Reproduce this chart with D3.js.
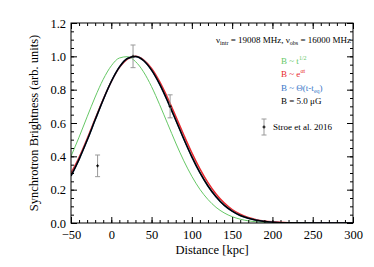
<!DOCTYPE html>
<html>
<head>
<meta charset="utf-8">
<script src="https://cdn.jsdelivr.net/npm/d3@7"></script>
<style>
  body { margin: 0; background: #fff; }
  text { font-family: "Liberation Serif", "DejaVu Serif", serif; }
</style>
</head>
<body>
<svg id="chart" width="374" height="267"></svg>
<script>
// distance grid [kpc]
const dist = [-50, -40, -30, -20, -10, 0, 10, 20, 30, 40, 50, 60, 70, 80, 90, 100,
  110, 120, 130, 140, 150, 160, 170, 180, 190, 200, 220, 250, 300];

// model curves
const greenVals = [0.40, 0.515, 0.637, 0.756, 0.862, 0.943, 0.99, 0.998, 0.969, 0.907, 0.818,
  0.71, 0.595, 0.48, 0.373, 0.28, 0.202, 0.141, 0.094, 0.061, 0.038, 0.023, 0.013, 0.007,
  0.004, 0.002, 0.0005, 0, 0];
const redVals = [0.30, 0.393, 0.505, 0.625, 0.742, 0.848, 0.932, 0.984, 1.0, 0.979, 0.927,
  0.848, 0.75, 0.64, 0.528, 0.421, 0.325, 0.242, 0.174, 0.121, 0.081, 0.053, 0.033, 0.02,
  0.012, 0.007, 0.002, 0, 0];
const blueVals = [0.282, 0.382, 0.496, 0.619, 0.74, 0.849, 0.935, 0.987, 0.999, 0.975, 0.917,
  0.833, 0.73, 0.618, 0.504, 0.397, 0.302, 0.222, 0.157, 0.107, 0.071, 0.045, 0.028, 0.016,
  0.009, 0.005, 0.001, 0, 0];
const blackVals = [0.282, 0.382, 0.496, 0.619, 0.74, 0.849, 0.935, 0.987, 0.999, 0.975, 0.917,
  0.833, 0.73, 0.618, 0.504, 0.397, 0.302, 0.222, 0.157, 0.107, 0.071, 0.045, 0.028, 0.016,
  0.009, 0.005, 0.001, 0, 0];

// Stroe et al. 2016 points
const obsX = [-17, 27, 73];
const obsY = [0.343, 1.0, 0.70];
const obsErr = [0.065, 0.068, 0.069];

const xTicks = [-50, 0, 50, 100, 150, 200, 250, 300];
const yTicks = [0.0, 0.2, 0.4, 0.6, 0.8, 1.0, 1.2];

const svg = d3.select("#chart");
const mLeft = 71, mRight = 353, mTop = 23, mBottom = 223;

const x = d3.scaleLinear().domain([-50, 300]).range([mLeft, mRight]);
const y = d3.scaleLinear().domain([0, 1.2]).range([mBottom, mTop]);

svg.append("clipPath").attr("id", "clip")
  .append("rect").attr("x", mLeft).attr("y", mTop)
  .attr("width", mRight - mLeft).attr("height", mBottom - mTop);

const curves = [
  { vals: greenVals, color: "#66c866", w: 1 },
  { vals: redVals, color: "#e8282c", w: 1.5 },
  { vals: blueVals, color: "#3a78c8", w: 1.5 },
  { vals: blackVals, color: "#000", w: 1.5 }
];

const line = d3.line()
  .x((d, i) => x(dist[i]))
  .y(d => y(d))
  .curve(d3.curveMonotoneX);

const g = svg.append("g").attr("clip-path", "url(#clip)");
curves.forEach(c => {
  g.append("path")
    .attr("d", line(c.vals))
    .attr("fill", "none")
    .attr("stroke", c.color)
    .attr("stroke-width", c.w);
});

// error bars
const eb = svg.append("g");
obsX.forEach((d, i) => {
  const cx = x(d);
  const y0 = y(obsY[i] - obsErr[i]), y1 = y(obsY[i] + obsErr[i]);
  eb.append("line").attr("x1", cx).attr("x2", cx).attr("y1", y0).attr("y2", y1)
    .attr("stroke", "#999").attr("stroke-width", 1);
  [y0, y1].forEach(yy => eb.append("line")
    .attr("x1", cx - 2.5).attr("x2", cx + 2.5).attr("y1", yy).attr("y2", yy)
    .attr("stroke", "#999").attr("stroke-width", 1));
  eb.append("line").attr("x1", cx - 1.5).attr("x2", cx + 1.5)
    .attr("y1", y(obsY[i])).attr("y2", y(obsY[i])).attr("stroke", "#000");
  eb.append("line").attr("x1", cx).attr("x2", cx)
    .attr("y1", y(obsY[i]) - 1.5).attr("y2", y(obsY[i]) + 1.5).attr("stroke", "#000");
});

// axes, ticks pointing inward on all sides
function styleAxis(sel) {
  sel.select(".domain").remove();
  sel.selectAll("line").attr("stroke", "#000");
  sel.selectAll("text").attr("font-size", "12.5px").attr("fill", "#000")
    .attr("font-family", "Liberation Serif");
}
const xMinor = d3.range(-50, 301, 10);
const yMinor = d3.range(0, 1.201, 0.05);

svg.append("g").attr("transform", `translate(0,${mBottom})`)
  .call(d3.axisBottom(x).tickValues(xTicks).tickSize(-6).tickPadding(7).tickFormat(d3.format("d")))
  .call(styleAxis);
svg.append("g").attr("transform", `translate(0,${mBottom})`)
  .call(d3.axisBottom(x).tickValues(xMinor).tickSize(-3).tickFormat(""))
  .call(styleAxis);
svg.append("g").attr("transform", `translate(0,${mTop})`)
  .call(d3.axisTop(x).tickValues(xTicks).tickSize(-6).tickFormat(""))
  .call(styleAxis);
svg.append("g").attr("transform", `translate(0,${mTop})`)
  .call(d3.axisTop(x).tickValues(xMinor).tickSize(-3).tickFormat(""))
  .call(styleAxis);

svg.append("g").attr("transform", `translate(${mLeft},0)`)
  .call(d3.axisLeft(y).tickValues(yTicks).tickSize(-6).tickPadding(5).tickFormat(d3.format(".1f")))
  .call(styleAxis);
svg.append("g").attr("transform", `translate(${mLeft},0)`)
  .call(d3.axisLeft(y).tickValues(yMinor).tickSize(-3).tickFormat(""))
  .call(styleAxis);
svg.append("g").attr("transform", `translate(${mRight},0)`)
  .call(d3.axisRight(y).tickValues(yTicks).tickSize(-6).tickFormat(""))
  .call(styleAxis);
svg.append("g").attr("transform", `translate(${mRight},0)`)
  .call(d3.axisRight(y).tickValues(yMinor).tickSize(-3).tickFormat(""))
  .call(styleAxis);

svg.append("rect").attr("x", mLeft).attr("y", mTop)
  .attr("width", mRight - mLeft).attr("height", mBottom - mTop)
  .attr("fill", "none").attr("stroke", "#000").attr("stroke-width", 1);

// axis titles
svg.append("text").attr("x", (mLeft + mRight) / 2).attr("y", 254)
  .attr("text-anchor", "middle").attr("font-size", "12.5px").text("Distance [kpc]");
svg.append("text")
  .attr("transform", `translate(38,${(mTop + mBottom) / 2}) rotate(-90)`)
  .attr("text-anchor", "middle").attr("font-size", "12.5px")
  .text("Synchrotron Brightness (arb. units)");

// annotations
const fs = 9;
const t1 = svg.append("text").attr("x", 351).attr("y", 43)
  .attr("text-anchor", "end").attr("font-size", fs + "px");
t1.append("tspan").text("ν");
t1.append("tspan").attr("dy", 2).attr("font-size", "6px").text("intr");
t1.append("tspan").attr("dy", -2).text(" = 19008 MHz, ν");
t1.append("tspan").attr("dy", 2).attr("font-size", "6px").text("obs");
t1.append("tspan").attr("dy", -2).text(" = 16000 MHz");

const lx = 281;
const l1 = svg.append("text").attr("x", lx).attr("y", 64).attr("font-size", fs + "px").attr("fill", "#66c866");
l1.append("tspan").text("B ~ t");
l1.append("tspan").attr("dy", -4).attr("font-size", "6px").text("1/2");

const l2 = svg.append("text").attr("x", lx).attr("y", 77).attr("font-size", fs + "px").attr("fill", "#e8282c");
l2.append("tspan").text("B ~ e");
l2.append("tspan").attr("dy", -4).attr("font-size", "6px").text("αt");

const l3 = svg.append("text").attr("x", lx).attr("y", 91).attr("font-size", fs + "px").attr("fill", "#3a78c8");
l3.append("tspan").text("B ~ Θ(t-t");
l3.append("tspan").attr("dy", 2).attr("font-size", "6px").text("eq");
l3.append("tspan").attr("dy", -2).text(")");

svg.append("text").attr("x", lx).attr("y", 104).attr("font-size", fs + "px").attr("fill", "#000")
  .text("B = 5.0 μG");

// data legend
const kx = 264, ky = 127;
svg.append("line").attr("x1", kx).attr("x2", kx).attr("y1", ky - 8).attr("y2", ky + 8).attr("stroke", "#999");
[ky - 8, ky + 8].forEach(yy => svg.append("line").attr("x1", kx - 2.5).attr("x2", kx + 2.5)
  .attr("y1", yy).attr("y2", yy).attr("stroke", "#999"));
svg.append("line").attr("x1", kx - 1.5).attr("x2", kx + 1.5).attr("y1", ky).attr("y2", ky).attr("stroke", "#000");
svg.append("line").attr("x1", kx).attr("x2", kx).attr("y1", ky - 1.5).attr("y2", ky + 1.5).attr("stroke", "#000");
svg.append("text").attr("x", 273).attr("y", 130).attr("font-size", fs + "px").text("Stroe et al. 2016");
</script>
</body>
</html>
